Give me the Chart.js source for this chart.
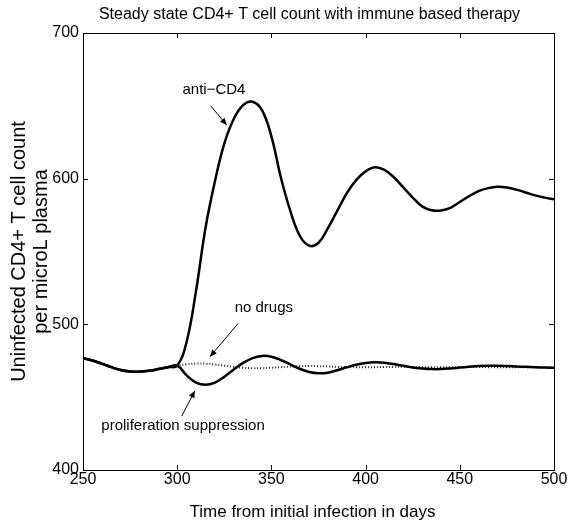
<!DOCTYPE html>
<html>
<head>
<meta charset="utf-8">
<script src="https://cdn.jsdelivr.net/npm/chart.js@4/dist/chart.umd.min.js"></script>
<style>
html,body{margin:0;padding:0;background:#fff;}
#c{display:block;}
</style>
</head>
<body>
<canvas id="c" width="569" height="528"></canvas>
<script>
// ---- data ----
const days = [250,255,260,265,270,275,280,285,290,295,300,305,310,315,320,325,330,335,340,345,350,355,360,365,370,375,380,385,390,395,400,405,410,415,420,425,430,435,440,445,450,455,460,465,470,475,480,485,490,495,500];
const antiCD4 = [476.7,475.2,473,470.6,468.6,467.6,467.5,468.1,469.3,470.6,471.6,488,523,566,598,624,641,650.5,652.8,647,629,601,578,561,554,556,566,578,590,599,605,607.8,606,601,594,587,581,578.3,578.2,580,584,588,591.5,593.5,594.5,594,592.5,590.5,588.5,587,585.8];
const prolifSuppression = [476.7,475.2,473,470.6,468.6,467.6,467.5,468.1,469.3,470.6,471.6,465,460,458.5,460,464,469,473.5,476.8,478.3,477.8,475.5,472.5,469.5,467.3,466.4,466.8,468.5,470.5,472.3,473.5,474,473.7,472.7,471.5,470.4,469.7,469.3,469.3,469.7,470.3,470.9,471.4,471.6,471.6,471.4,471.1,470.8,470.5,470.3,470.2];
const noDrugs = [476.7,475.2,473,470.6,468.6,467.6,467.5,468.1,469.3,470.6,471.6,472.6,473.1,473,472.4,471.6,470.8,470.2,469.9,469.9,470.2,470.6,471,471.3,471.4,471.3,471.1,470.8,470.6,470.5,470.5,470.6,470.7,470.8,470.8,470.7,470.6,470.5,470.5,470.6,470.7,470.7,470.7,470.6,470.6,470.6,470.6,470.6,470.6,470.6,470.6];
const xTicks = [250,300,350,400,450,500];
const yTicks = [400,500,600,700];
const titleText = 'Steady state CD4+ T cell count with immune based therapy';
const xTitle = 'Time from initial infection in days';
const yTitle = ['Uninfected CD4+ T cell count','per microL plasma'];
const annotations = [
  {text:'anti\u2212CD4', tx:319.5, ty:661.3, ax1:317.8, ay1:649.9, ax2:326.3, ay2:636.8},
  {text:'no drugs', tx:346, ty:511, ax1:332.4, ay1:500.7, ax2:317.4, ay2:477.8},
  {text:'proliferation suppression', tx:303.1, ty:430.2, ax1:302.4, ay1:437, ax2:309.4, ay2:454.4}
];

const FONT = '"Liberation Sans", Arial, Helvetica, sans-serif';
const pts = arr => days.map((d,i)=>({x:d, y:arr[i]}));

const framePlugin = {
  id:'frame',
  afterDraw(chart){
    const {ctx, chartArea:a, scales} = chart;
    const xs = scales.x, ys = scales.y;
    ctx.save();
    ctx.strokeStyle = '#000';
    ctx.lineWidth = 1;
    ctx.strokeRect(Math.round(a.left)+0.5, Math.round(a.top)+0.5, Math.round(a.right-a.left), Math.round(a.bottom-a.top));
    const tl = 5;
    ctx.beginPath();
    xTicks.forEach(v=>{
      const px = Math.round(xs.getPixelForValue(v))+0.5;
      ctx.moveTo(px, a.bottom); ctx.lineTo(px, a.bottom-tl);
      ctx.moveTo(px, a.top); ctx.lineTo(px, a.top+tl);
    });
    yTicks.forEach(v=>{
      const py = Math.round(ys.getPixelForValue(v))+0.5;
      ctx.moveTo(a.left, py); ctx.lineTo(a.left+tl, py);
      ctx.moveTo(a.right, py); ctx.lineTo(a.right-tl, py);
    });
    ctx.stroke();
    ctx.fillStyle = '#000';
    ctx.textAlign = 'center';
    ctx.textBaseline = 'middle';
    ctx.font = '16px ' + FONT;
    ctx.fillText(titleText, (a.left+a.right)/2 - 9, 15);
    ctx.font = '17px ' + FONT;
    ctx.fillText(xTitle, (a.left+a.right)/2 - 6, 512);
    ctx.save();
    ctx.font = '20px ' + FONT;
    ctx.translate(19, (a.top+a.bottom)/2);
    ctx.rotate(-Math.PI/2);
    ctx.fillText(yTitle[0], 0, 0);
    ctx.fillText(yTitle[1], 0, 22);
    ctx.restore();
    ctx.font = '15px ' + FONT;
    annotations.forEach(an=>{
      ctx.fillText(an.text, xs.getPixelForValue(an.tx), ys.getPixelForValue(an.ty));
      const x1 = xs.getPixelForValue(an.ax1), y1 = ys.getPixelForValue(an.ay1);
      const x2 = xs.getPixelForValue(an.ax2), y2 = ys.getPixelForValue(an.ay2);
      ctx.beginPath(); ctx.moveTo(x1,y1); ctx.lineTo(x2,y2); ctx.lineWidth=1; ctx.stroke();
      const ang = Math.atan2(y2-y1, x2-x1), L = 7, W = 3;
      ctx.beginPath();
      ctx.moveTo(x2,y2);
      ctx.lineTo(x2 - L*Math.cos(ang) + W*Math.sin(ang), y2 - L*Math.sin(ang) - W*Math.cos(ang));
      ctx.lineTo(x2 - L*Math.cos(ang) - W*Math.sin(ang), y2 - L*Math.sin(ang) + W*Math.cos(ang));
      ctx.closePath(); ctx.fill();
    });
    ctx.restore();
  }
};

new Chart(document.getElementById('c'), {
  type:'line',
  data:{
    datasets:[
      {label:'anti-CD4', data:pts(antiCD4), borderColor:'#000', borderWidth:2.5, pointRadius:0, tension:0.4, fill:false, order:1},
      {label:'proliferation suppression', data:pts(prolifSuppression), borderColor:'#000', borderWidth:2.5, pointRadius:0, tension:0.4, fill:false, order:2},
      {label:'no drugs', data:pts(noDrugs), borderColor:'#222', borderWidth:2, borderDash:[1,2], pointRadius:0, tension:0.4, fill:false, order:3}
    ]
  },
  options:{
    responsive:false,
    animation:false,
    events:[],
    layout:{padding:{top:33, right:15, left:0, bottom:0}},
    plugins:{legend:{display:false}, tooltip:{enabled:false}, title:{display:false}},
    scales:{
      x:{type:'linear', min:250, max:500,
         afterBuildTicks:s=>{s.ticks = xTicks.map(v=>({value:v}));},
         ticks:{font:{family:FONT,size:16}, color:'#000', padding:0, maxRotation:0, autoSkip:false},
         grid:{drawOnChartArea:false, drawTicks:false}, border:{display:false},
         afterFit:s=>{s.height = 58;}},
      y:{type:'linear', min:400, max:700,
         afterBuildTicks:s=>{s.ticks = yTicks.map(v=>({value:v}));},
         ticks:{font:{family:FONT,size:16}, color:'#000', padding:4, autoSkip:false},
         grid:{drawOnChartArea:false, drawTicks:false}, border:{display:false},
         afterFit:s=>{s.width = 83;}}
    }
  },
  plugins:[framePlugin]
});
</script>
</body>
</html>
